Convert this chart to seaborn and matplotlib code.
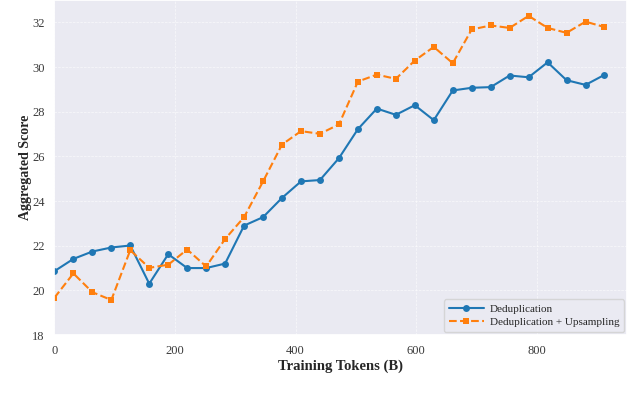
import numpy as np
import pandas as pd
import matplotlib
matplotlib.use("Agg")
import matplotlib.pyplot as plt
import seaborn as sns

# dane
tokeny = [0, 31.5, 62.9, 94.4, 125.8, 157.3, 188.8, 220.2, 251.7, 283.1,
          314.6, 346.1, 377.5, 409.0, 440.4, 471.9, 503.4, 534.8, 566.3, 597.7,
          629.2, 660.7, 692.1, 723.6, 755.0, 786.5, 818.0, 849.4, 880.9, 912.3]

dedup = [20.86, 21.41, 21.74, 21.92, 22.01, 20.30, 21.62, 21.00, 21.00, 21.20,
         22.90, 23.28, 24.14, 24.88, 24.94, 25.92, 27.22, 28.14, 27.86, 28.29,
         27.62, 28.95, 29.07, 29.10, 29.62, 29.54, 30.21, 29.41, 29.20, 29.65]

dedup_up = [19.67, 20.76, 19.92, 19.57, 21.80, 21.01, 21.15, 21.83, 21.07, 22.30,
            23.28, 24.88, 26.53, 27.13, 27.01, 27.43, 29.35, 29.66, 29.47, 30.29,
            30.90, 30.17, 31.68, 31.86, 31.75, 32.29, 31.75, 31.53, 32.03, 31.79]

nazwy = ['Deduplication', 'Deduplication + Upsampling']

sns.set_theme(style='darkgrid')
plt.rcParams['font.family'] = ['Liberation Serif', 'DejaVu Serif']

df = pd.DataFrame({'tokeny': tokeny, 'dedup': dedup, 'dedup_up': dedup_up})

fig, ax = plt.subplots(figsize=(6.4, 3.97), dpi=100)
fig.subplots_adjust(left=0.085, right=0.98, bottom=0.156, top=1.0)

sns.lineplot(data=df, x='tokeny', y='dedup', ax=ax, color='#1f77b4', marker='o',
             markersize=5, markeredgewidth=0, linewidth=1.5, label=nazwy[0])
sns.lineplot(data=df, x='tokeny', y='dedup_up', ax=ax, color='#ff7f0e', marker='s',
             markersize=5, markeredgewidth=0, linewidth=1.5, linestyle='--', label=nazwy[1])

ax.set_xlim(0, 950)
ax.set_ylim(18, 33)
ax.set_xticks([0, 200, 400, 600, 800])
ax.set_yticks([18, 20, 22, 24, 26, 28, 30, 32])
ax.grid(True, color='white', linestyle='--', linewidth=0.5, alpha=0.7)
ax.tick_params(axis='both', labelsize=9, labelcolor='#3a3a3a', pad=1)

ax.set_xlabel('Training Tokens (B)', fontsize=10.5, fontweight='bold', labelpad=2)
ax.set_ylabel('Aggregated Score', fontsize=10, fontweight='bold', labelpad=0)

ax.legend(loc='lower right', fontsize=8, frameon=True, framealpha=0.8,
          edgecolor='#d0d0d0', handlelength=3.2, handletextpad=0.5,
          borderpad=0.4, labelspacing=0.35, borderaxespad=0.3)

plt.savefig('out.png', dpi=100)
